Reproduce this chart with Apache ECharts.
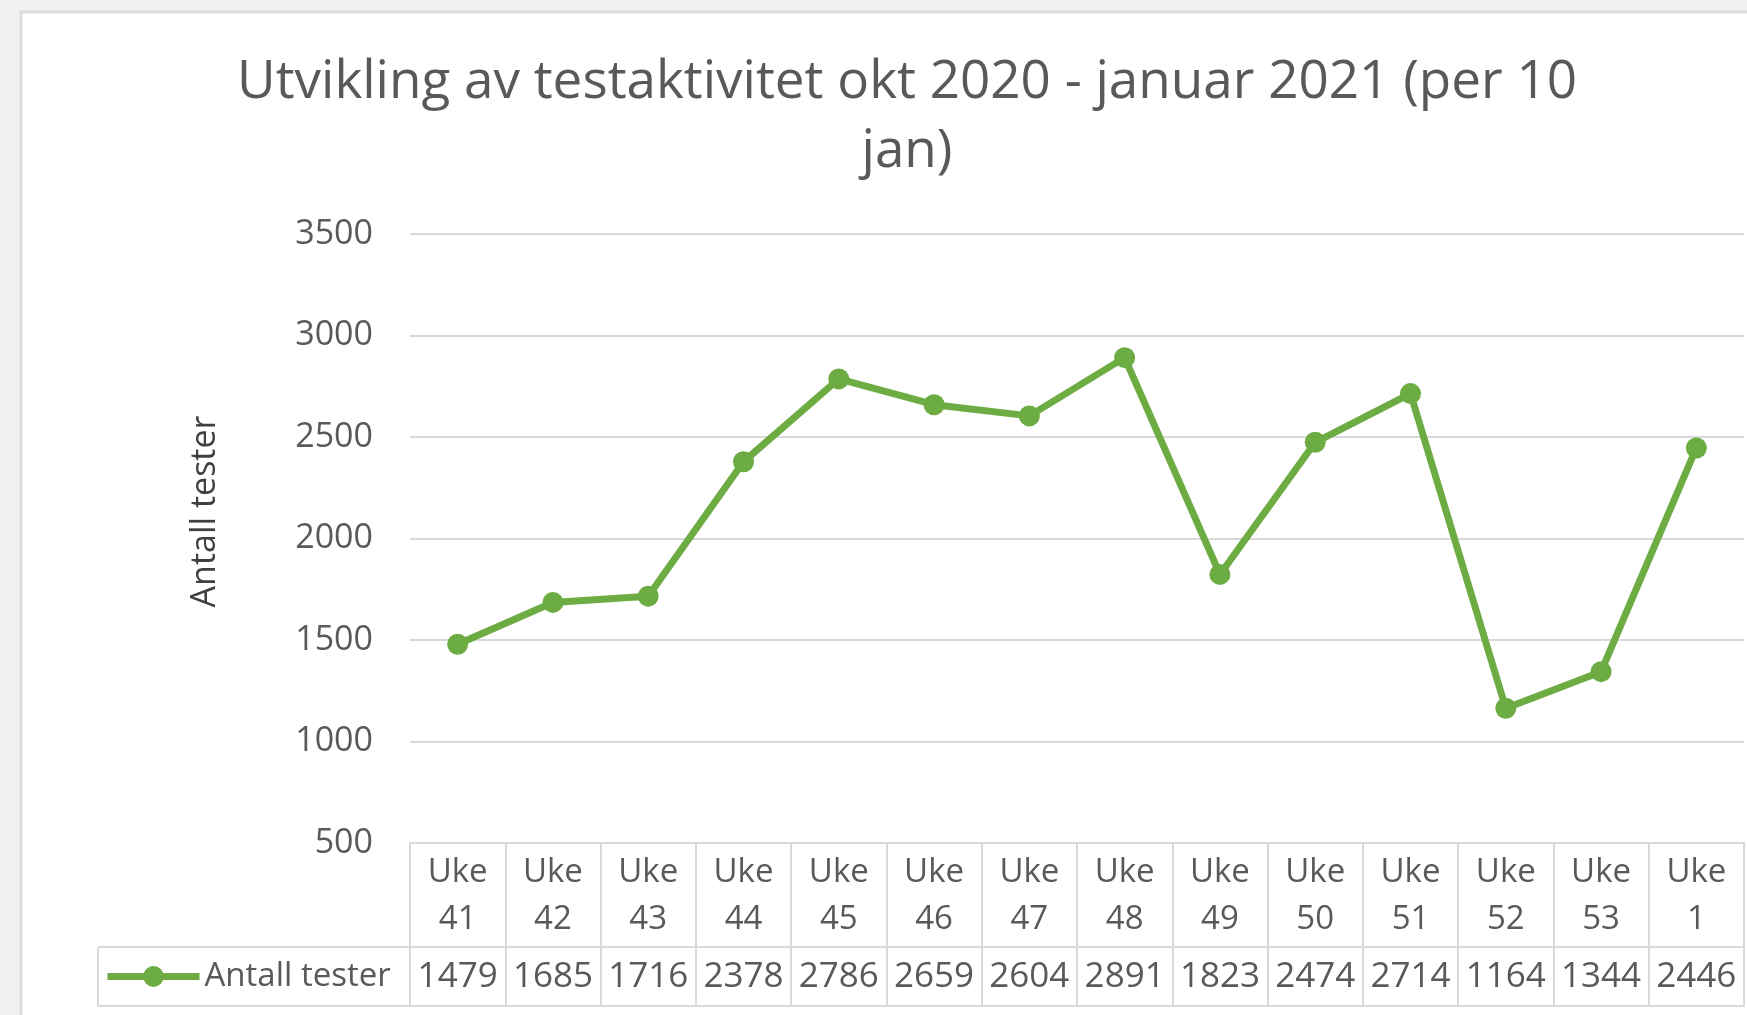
<!DOCTYPE html>
<html>
<head>
<meta charset="utf-8">
<script src="https://cdn.jsdelivr.net/npm/echarts@6/dist/echarts.min.js"></script>
<style>
html,body{margin:0;padding:0;background:#eff1ef;}
#chart{width:1747px;height:1015px;}
</style>
</head>
<body>
<div id="chart"></div>
<script>
const titleText = 'Utvikling av testaktivitet okt 2020 - januar 2021 (per 10\njan)';
const categories = ['Uke 41','Uke 42','Uke 43','Uke 44','Uke 45','Uke 46','Uke 47','Uke 48','Uke 49','Uke 50','Uke 51','Uke 52','Uke 53','Uke 1'];
const seriesName = 'Antall tester';
const testValues = [1479,1685,1716,2378,2786,2659,2604,2891,1823,2474,2714,1164,1344,2446];
const yTicks = {min:500, max:3500, interval:500};
const yAxisName = 'Antall tester';

const FONT = 'Open Sans';
const TXT = '#595959';
const LINE = '#d9d9d9';
const GREEN = '#6cac43';

const chart = echarts.init(document.getElementById('chart'));
chart.setOption({
  backgroundColor: '#eff1ef',
  textStyle: {fontFamily: FONT},
  title: {
    text: titleText,
    left: 907, top: 48, padding: 0, textAlign: 'center',
    textStyle: {fontFamily: FONT, fontSize: 53, fontWeight: 'normal', color: TXT, lineHeight: 69}
  },
  graphic: [
    {type:'rect', z:-10, silent:true, shape:{x:21,y:12,width:1760,height:1020}, style:{fill:'#ffffff', stroke:'#dcdedc', lineWidth:3}},
    {type:'line', z:10, silent:true, shape:{x1:98,y1:947,x2:410,y2:947}, style:{stroke:LINE, lineWidth:2}},
    {type:'line', z:10, silent:true, shape:{x1:98,y1:1006,x2:410,y2:1006}, style:{stroke:LINE, lineWidth:2}},
    {type:'line', z:10, silent:true, shape:{x1:98,y1:947,x2:98,y2:1006}, style:{stroke:LINE, lineWidth:2}}
  ],
  legend: {
    data: [seriesName],
    left: 104, top: 960, padding: 0,
    itemWidth: 92, itemHeight: 26,
    lineStyle: {width: 7},
    textStyle: {fontFamily: FONT, fontSize: 33, color: TXT}
  },
  grid: {left: 410, right: 3, top: 234, bottom: 1015 - 843, containLabel: false},
  xAxis: [
    {
      type: 'category', data: categories, boundaryGap: true, position: 'bottom',
      axisLine: {show: true, lineStyle: {color: LINE, width: 2}},
      axisTick: {show: true, length: 163, lineStyle: {color: LINE, width: 2}},
      axisLabel: {interval: 0, margin: 6, fontFamily: FONT, fontSize: 33, color: TXT, lineHeight: 47,
        formatter: v => v.replace(' ', '\n')}
    },
    {
      type: 'category', data: categories, boundaryGap: true, position: 'bottom', offset: 104,
      axisLine: {show: true, lineStyle: {color: LINE, width: 2}},
      axisTick: {show: false},
      axisLabel: {interval: 0, margin: 13, fontFamily: FONT, fontSize: 35, color: TXT,
        formatter: (v, i) => String(testValues[i])}
    },
    {
      type: 'category', data: categories, boundaryGap: true, position: 'bottom', offset: 163,
      axisLine: {show: true, lineStyle: {color: LINE, width: 2}},
      axisTick: {show: false}, axisLabel: {show: false}
    }
  ],
  yAxis: {
    type: 'value', min: yTicks.min, max: yTicks.max, interval: yTicks.interval,
    name: yAxisName, nameLocation: 'middle', nameGap: 188,
    nameTextStyle: {fontFamily: FONT, fontSize: 34, color: '#404040', padding: [0,0,0,54]},
    axisLine: {show: false}, axisTick: {show: false},
    axisLabel: {margin: 37, fontFamily: FONT, fontSize: 34, color: TXT, formatter: v => String(v)},
    splitLine: {show: true, lineStyle: {color: LINE, width: 2}}
  },
  series: [{
    name: seriesName, type: 'line', data: testValues, xAxisIndex: 0,
    symbol: 'circle', symbolSize: 21,
    lineStyle: {color: GREEN, width: 7},
    itemStyle: {color: GREEN},
    animation: false
  }],
  animation: false
});
</script>
</body>
</html>
